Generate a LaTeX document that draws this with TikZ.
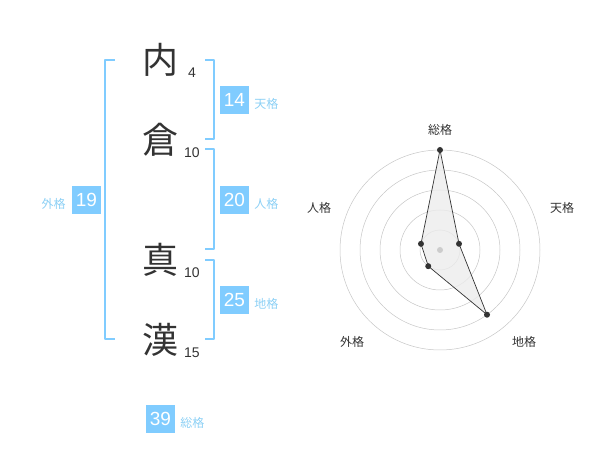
\documentclass[tikz,border=0pt]{standalone}
\usepackage{fontspec}
\setmainfont{Liberation Sans}
\newfontfamily\jp{Noto Sans CJK JP}
\usetikzlibrary{positioning}
\definecolor{boxblue}{RGB}{128,204,255}
\definecolor{lblblue}{RGB}{140,208,245}
\definecolor{ink}{RGB}{51,51,51}
\tikzset{
  kanji/.style={font=\jp\fontsize{36}{36}\selectfont, text=ink, inner sep=0pt},
  strokes/.style={font=\fontsize{14}{14}\selectfont, text=ink, inner sep=0pt},
  score/.style={fill=boxblue, text=white, minimum width=29pt, minimum height=28pt, inner sep=0pt, font=\fontsize{19}{19}\selectfont},
  lbl/.style={text=lblblue, font=\jp\fontsize{12}{12}\selectfont, inner sep=0pt},
  brk/.style={boxblue, line width=2pt},
  ring/.style={gray!45, line width=0.5pt},
  axlbl/.style={text=ink, font=\jp\fontsize{12}{12}\selectfont, inner sep=0pt}
}
\begin{document}
\begin{tikzpicture}[x=1pt, y=-1pt, line join=round]
\useasboundingbox (0,0) rectangle (600,470);
% name and stroke counts
\foreach \k/\n/\y [count=\i] in {内/4/60,倉/10/140,真/10/260,漢/15/340}{
  \node[kanji] (k\i) at (160,\y) {\k};
  \node[strokes] (n\i) at (192,\y+13) {\n};
}
% brackets
\draw[brk] (115,60) -| (105,339) -- (115,339);
\draw[brk] (205,60) -| (214,139) -- (205,139);
\draw[brk] (205,149) -| (214,249) -- (205,249);
\draw[brk] (205,260) -| (214,339) -- (205,339);
% scores
\node[score] (b14) at (234.5,100) {14};
\node[lbl, right=5pt of b14, yshift=-4pt] {天格};
\node[score] (b20) at (234.5,200) {20};
\node[lbl, right=5pt of b20, yshift=-4pt] {人格};
\node[score] (b25) at (234.5,300) {25};
\node[lbl, right=5pt of b25, yshift=-4pt] {地格};
\node[score] (b19) at (86.5,200) {19};
\node[lbl, left=6pt of b19, yshift=-4pt] {外格};
\node[score] (b39) at (160.5,419) {39};
\node[lbl, right=5pt of b39, yshift=-4pt] {総格};
% radar
\begin{scope}[shift={(440,250)}, yscale=-1]
  \foreach \r in {20,40,...,100} \draw[ring] (0,0) circle (\r);
  \coordinate (so) at (90:100);
  \coordinate (te) at (18:20);
  \coordinate (ti) at (-54:80);
  \coordinate (ga) at (-126:20);
  \coordinate (ji) at (162:20);
  \filldraw[fill=gray!15, fill opacity=0.8, draw=ink, line width=0.7pt] (so) -- (te) -- (ti) -- (ga) -- (ji) -- cycle;
  \fill[gray!40] (0,0) circle (3);
  \foreach \p in {so,te,ti,ga,ji} \fill[ink] (\p) circle (3);
  \node[axlbl] (lso) at (0,120) {総格};
  \node[axlbl] (lte) at (122,42) {天格};
  \node[axlbl] (lti) at (84,-92) {地格};
  \node[axlbl] (lga) at (-88,-92) {外格};
  \node[axlbl] (lji) at (-121,42) {人格};
\end{scope}
\end{tikzpicture}
\end{document}
